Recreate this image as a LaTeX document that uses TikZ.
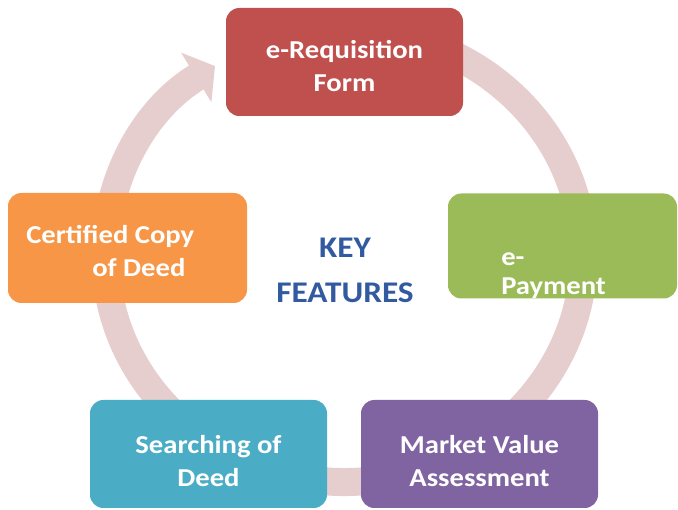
\documentclass[tikz,border=0pt]{standalone}
\usepackage{fontspec}
\setmainfont{Carlito}[FakeStretch=1.11]
\usepackage{tikz}
\usetikzlibrary{arrows.meta}
\definecolor{reqred}{HTML}{C0504D}
\definecolor{paygreen}{HTML}{9BBB59}
\definecolor{mktpurple}{HTML}{8064A2}
\definecolor{srchaqua}{HTML}{4BACC6}
\definecolor{certorange}{HTML}{F79646}
\definecolor{bandpink}{RGB}{230,206,207}
\definecolor{keyblue}{RGB}{50,90,160}
\tikzset{
  featbox/.style={rounded corners=10pt, inner sep=0pt, minimum width=177.75pt, minimum height=81pt},
  feattext/.style={text=white, inner sep=0pt, font=\fontsize{19.35}{24.75}\selectfont\bfseries},
  keytext/.style={text=keyblue, inner sep=0pt, align=center, font=\fontsize{22.5}{33.75}\selectfont\bfseries},
  cycleband/.style={draw=bandpink, line width=21pt, -{Triangle[length=16.5pt,width=42.75pt]}}
}

\begin{document}
\begin{tikzpicture}[x=0.75pt,y=0.75pt]
\useasboundingbox (0,0) rectangle (678,510);
\coordinate (ctr) at (344.5,254);
\draw [cycleband] (ctr) ++(100:239 and 226) arc [start angle=100, end angle=-237.2, x radius=239, y radius=226];

\node [featbox, fill=reqred] (req) at (344.5,448) {};
\node [featbox, fill=paygreen, minimum width=171.75pt, minimum height=78.75pt] (pay) at (562.5,264) {};
\node [featbox, fill=mktpurple] (mkt) at (479.5,56) {};
\node [featbox, fill=srchaqua] (srch) at (208.5,56) {};
\node [featbox, fill=certorange, minimum width=179.25pt, minimum height=82.5pt] (cert) at (127.5,262) {};

\node [feattext, anchor=base, align=center] (reqtext) at (344.5,418) {e-Requisition\\Form};
\node [feattext, anchor=base west, align=left, font=\fontsize{19.35}{21.75}\selectfont\bfseries] (paytext) at (501,215) {e-\\Payment};
\node [feattext, anchor=base, align=center] (mkttext) at (479.5,23) {Market Value\\Assessment};
\node [feattext, anchor=base, align=center] (srchtext) at (208.5,23) {Searching of\\Deed};
\node [feattext, anchor=base west, align=left] (certtext) at (26,233) {Certified Copy\\\hspace*{49.5pt}of Deed};
\node [keytext, anchor=base] (keyfeat) at (345,207) {KEY\\FEATURES};
\end{tikzpicture}
\end{document}
